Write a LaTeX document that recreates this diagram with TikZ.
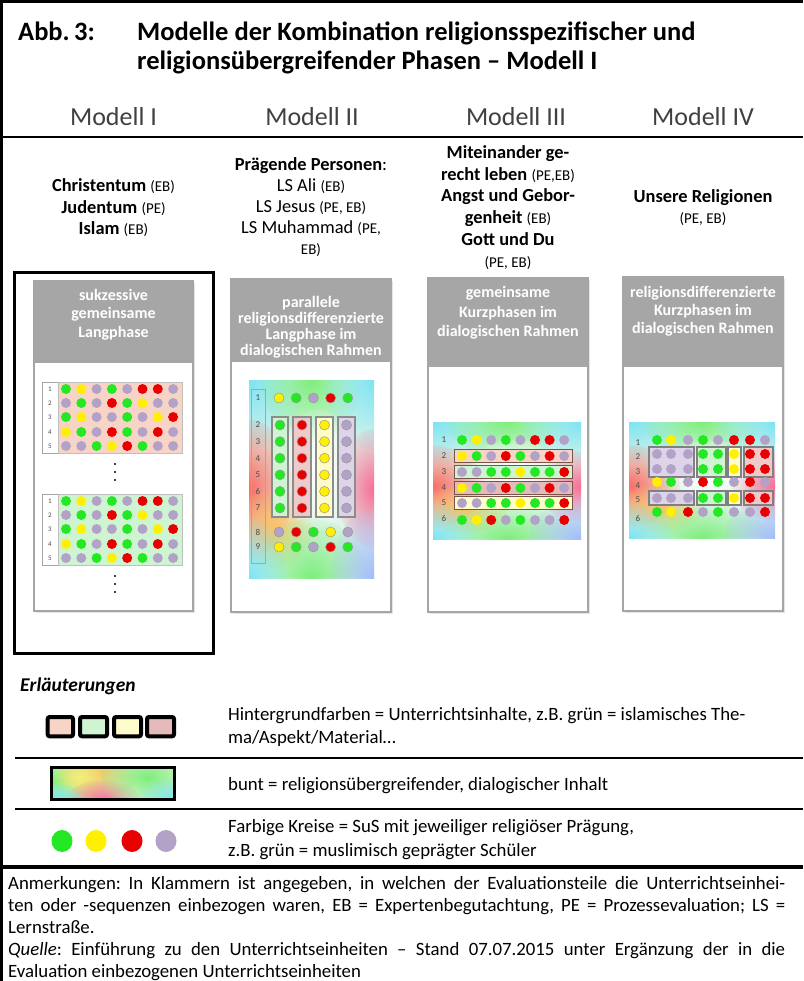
\documentclass[tikz,border=0pt]{standalone}
\usepackage{fontspec}
\setmainfont{Carlito}
\usetikzlibrary{fadings}
\setlength{\parindent}{0pt}
\frenchspacing
\begin{tikzfadingfrompicture}[name=blobfade]
  \shade[inner color=transparent!0, outer color=transparent!100] (0,0) circle (1cm);
\end{tikzfadingfrompicture}
\definecolor{cG}{RGB}{36,232,36}
\definecolor{cY}{RGB}{255,240,0}
\definecolor{cR}{RGB}{232,0,0}
\definecolor{cP}{RGB}{178,162,200}
\definecolor{hdr}{RGB}{166,166,166}
\definecolor{pbord}{RGB}{165,165,165}
\definecolor{bgS}{RGB}{248,212,198}
\definecolor{bgG}{RGB}{206,244,210}
\definecolor{bgY}{RGB}{255,252,204}
\definecolor{bgD}{RGB}{228,186,186}
\definecolor{bgL}{RGB}{222,212,234}
\definecolor{bgK}{RGB}{240,202,202}
\definecolor{boxbr}{RGB}{120,84,74}
\definecolor{buntbase}{RGB}{224,245,234}
\definecolor{bcy}{RGB}{125,228,242}
\definecolor{bgr}{RGB}{125,238,125}
\definecolor{bre}{RGB}{250,110,100}
\definecolor{bor}{RGB}{250,195,100}
\definecolor{bpk}{RGB}{248,110,150}
\definecolor{bbl}{RGB}{160,188,250}
\definecolor{bye}{RGB}{245,240,120}
\definecolor{lgbase}{RGB}{236,246,220}
\newcommand\sm[1]{{\fontsize{15}{17}\selectfont #1}}
\newcommand\dotrow[5][]{\foreach \c [count=\i from 0] in {#5} {\fill[fill=c\c,#1] ({#2+\i*#3},#4) circle[radius=5];}}
\newcommand\blob[5]{\fill[#5, path fading=blobfade] (#1,#2) ellipse[x radius=#3, y radius=#4];}
\newcommand\buntpanel[4]{%
  \begin{scope}
    \clip (#1,#2) rectangle (#3,#4);
    \fill[buntbase] (#1,#2) rectangle (#3,#4);
    \begin{scope}[shift={(#1,#2)}, xscale={#3-#1}, yscale={#4-#2}]
      \blob{0}{0}{0.45}{0.35}{bcy}
      \blob{0.5}{0}{0.4}{0.3}{bgr}
      \blob{1}{0}{0.4}{0.35}{bcy}
      \blob{0}{0.55}{0.35}{0.35}{bre}
      \blob{0.2}{0.75}{0.3}{0.2}{bor}
      \blob{1}{0.55}{0.3}{0.3}{bpk}
      \blob{0.55}{0.45}{0.3}{0.3}{white}
      \blob{0.5}{1}{0.45}{0.3}{bgr}
      \blob{0}{1}{0.3}{0.3}{bcy}
      \blob{1}{1}{0.35}{0.35}{bbl}
    \end{scope}
  \end{scope}}
\newcommand\panel[5]{%
  \fill[black!10] (#1+2,#2+2) rectangle (#3+2,#4+2);
  \fill[white] (#1,#2) rectangle (#3,#4);
  \fill[hdr] (#1,#2) rectangle (#3,#5);
  \draw[pbord, line width=1.5] (#1,#2) rectangle (#3,#4);}
\newcommand\gridI[3]{%
  \fill[white] (42,#1) rectangle (58,#1+71);
  \draw[black!35, line width=0.6] (42,#1) rectangle (58,#1+71);
  \fill[#2] (58,#1) rectangle (182,#1+71);
  \draw[black!25, line width=0.6] (58,#1) rectangle (182,#1+71);
  \foreach \n/\dy in {1/7,2/21,3/35,4/50,5/64} {\node[num1] (#3\n) at (50,#1+\dy) {\n};}
  \dotrow{66}{15.3}{#1+7}{G,Y,P,G,P,R,R,P}
  \dotrow{66}{15.3}{#1+21}{P,G,P,R,G,Y,P,P}
  \dotrow{66}{15.3}{#1+35}{G,Y,P,P,G,P,Y,R}
  \dotrow{66}{15.3}{#1+50}{Y,G,P,R,G,P,R,P}
  \dotrow{66}{15.3}{#1+64}{P,P,G,Y,R,G,P,P}
  \foreach \dy in {82,90,98} {\fill (115,#1+\dy) circle[radius=1.1];}}
\newcommand\rowIV[9]{%
  \fill[fill=c#2] (657,#1) circle[radius=5];
  \fill[fill=c#3] (671,#1) circle[radius=5];
  \fill[fill=c#4] (688,#1) circle[radius=5];
  \fill[fill=c#5] (703,#1) circle[radius=5];
  \fill[fill=c#6] (718,#1) circle[radius=5];
  \fill[fill=c#7] (734,#1) circle[radius=5];
  \fill[fill=c#8] (750,#1) circle[radius=5];
  \fill[fill=c#9] (765,#1) circle[radius=5];}
\tikzset{
  lbl/.style={anchor=base, inner sep=0, font=\fontsize{18.4}{22}\selectfont},
  hdrtxt/.style={anchor=base, inner sep=0, text=white, font=\fontsize{16}{18}\selectfont\bfseries},
  modhead/.style={anchor=base, inner sep=0, text=black!75, font=\fontsize{26}{31}\selectfont},
  num1/.style={inner sep=0, text=black!70, font=\fontsize{7}{8}\selectfont},
  num2/.style={inner sep=0, text=black!70, font=\fontsize{9}{10}\selectfont},
  legtxt/.style={anchor=base west, inner sep=0, font=\fontsize{18.8}{23}\selectfont},
  titl/.style={anchor=base west, inner sep=0, font=\fontsize{26.5}{30}\selectfont\bfseries},
  colbox/.style={draw=black!45, line width=1.2},
  rowbox/.style={draw=boxbr, line width=1},
  grpbox/.style={draw=black!50, line width=1.2},
  odot/.style={draw=black!40, line width=0.5}
}
\begin{document}
\begin{tikzpicture}[x=1pt,y=-1pt]
\useasboundingbox (0,0) rectangle (803,981);
\fill[white] (0,0) rectangle (803,981);
% frame
\draw[line width=3] (0,2) -- (803,2);
\draw[line width=2.7] (1.3,0) -- (1.3,981);
% title
\node[titl] (abb) at (18,41) {Abb.\,3:};
\node[titl] (tit1) at (137,41) {Modelle der Kombination religionsspezifischer und};
\node[titl] (tit2) at (137,70) {religionsübergreifender Phasen – Modell I};
% model headings
\node[modhead] (h1) at (113.5,126) {Modell I};
\node[modhead] (h2) at (312,126) {Modell II};
\node[modhead] (h3) at (516,126) {Modell III};
\node[modhead] (h4) at (703,126) {Modell IV};
\draw[line width=2] (2,137) -- (803,137);
% subtitles
\node[lbl] (s1a) at (113.5,192) {\textbf{Christentum} \sm{(EB)}};
\node[lbl] (s1b) at (113.5,214) {\textbf{Judentum} \sm{(PE)}};
\node[lbl] (s1c) at (113.5,235) {\textbf{Islam} \sm{(EB)}};
\node[lbl] (s2a) at (311,171) {\textbf{Prägende Personen}:};
\node[lbl] (s2b) at (311,192) {LS Ali \sm{(EB)}};
\node[lbl] (s2c) at (311,213) {LS Jesus \sm{(PE, EB)}};
\node[lbl] (s2d) at (311,234) {LS Muhammad \sm{(PE,}};
\node[lbl] (s2e) at (311,255) {\sm{EB)}};
\node[lbl] (s3a) at (508,159) {\textbf{Miteinander ge-}};
\node[lbl] (s3b) at (508,181) {\textbf{recht leben} \sm{(PE,EB)}};
\node[lbl] (s3c) at (508,202) {\textbf{Angst und Gebor-}};
\node[lbl] (s3d) at (508,224) {\textbf{genheit} \sm{(EB)}};
\node[lbl] (s3e) at (508,246) {\textbf{Gott und Du}};
\node[lbl] (s3f) at (508,268) {\sm{(PE, EB)}};
\node[lbl] (s4a) at (703,203) {\textbf{Unsere Religionen}};
\node[lbl] (s4b) at (703,224) {\sm{(PE, EB)}};
% ===== Model I =====
\draw[line width=3] (14,273) rectangle (213,653);
\panel{34}{281}{193}{611}{363}
\node[hdrtxt] (p1a) at (113.5,300) {sukzessive};
\node[hdrtxt] (p1b) at (113.5,318) {gemeinsame};
\node[hdrtxt] (p1c) at (113.5,337) {Langphase};
\gridI{382}{bgS}{ga}
\gridI{494}{bgG}{gb}
% ===== Model II =====
\panel{231}{279}{391}{612}{362}
\node[hdrtxt] (p2a) at (311,307) {parallele};
\node[hdrtxt] (p2b) at (311,323) {religionsdifferenzierte};
\node[hdrtxt] (p2c) at (311,339) {Langphase im};
\node[hdrtxt] (p2d) at (311,355) {dialogischen Rahmen};
\buntpanel{249}{380}{374}{578}
\draw[black!35, line width=0.8] (251,389) rectangle (265,563);
\foreach \n/\y in {1/398,2/425,3/441.6,4/458.2,5/474.8,6/491.4,7/508,8/532,9/547} {\node[num2] (n2\n) at (258,\y) {\n};}
\dotrow[odot]{279}{17.2}{398}{Y,G,P,R,G}
\fill[bgG, colbox] (272,417) rectangle (288,517);
\fill[bgK, colbox] (293,417) rectangle (311,517);
\fill[bgY, colbox] (316,417) rectangle (333,517);
\fill[bgL, colbox] (338,417) rectangle (355,517);
\foreach \k in {0,...,5} {
  \fill[fill=cG, odot] (280,425+16.6*\k) circle[radius=5];
  \fill[fill=cR, odot] (302,425+16.6*\k) circle[radius=5];
  \fill[fill=cY, odot] (324.5,425+16.6*\k) circle[radius=5];
  \fill[fill=cP, odot] (346.5,425+16.6*\k) circle[radius=5];
}
\dotrow[odot]{279}{17.2}{532}{P,R,G,Y,P}
\dotrow[odot]{279}{17.2}{547}{Y,G,P,R,G}
% ===== Model III =====
\panel{428}{278}{588}{612}{367}
\node[hdrtxt] (p3a) at (508,298) {gemeinsame};
\node[hdrtxt] (p3b) at (508,317) {Kurzphasen im};
\node[hdrtxt] (p3c) at (508,336) {dialogischen Rahmen};
\buntpanel{433}{422}{581}{539}
\fill[bgS, rowbox] (454,449.5) rectangle (572,462.5);
\fill[bgG, rowbox] (454,465.5) rectangle (572,478.5);
\fill[bgD, rowbox] (454,481.5) rectangle (572,494.5);
\fill[bgY, rowbox] (454,496.5) rectangle (572,509.5);
\foreach \n/\y in {1/440,2/456,3/472,4/488,5/503,6/518} {\node[num2] (n3\n) at (444,\y) {\n};}
\dotrow{462}{14.6}{440}{G,Y,P,G,P,R,R,P}
\dotrow{462}{14.6}{456}{Y,G,P,R,G,P,R,P}
\dotrow{462}{14.6}{472}{P,P,G,G,Y,G,G,R}
\dotrow{462}{14.6}{488}{Y,G,P,R,G,P,R,P}
\dotrow{462}{14.6}{503}{P,P,G,G,Y,G,G,R}
\dotrow{462}{14.6}{520}{G,Y,R,P,G,P,P,R}
% ===== Model IV =====
\panel{623}{277}{783}{611}{367}
\node[hdrtxt] (p4a) at (703,297) {religionsdifferenzierte};
\node[hdrtxt] (p4b) at (703,315) {Kurzphasen im};
\node[hdrtxt] (p4c) at (703,333) {dialogischen Rahmen};
\buntpanel{629}{422}{775}{538}
\foreach \ya/\yb in {447/477,491/505} {
  \fill[bgL, grpbox] (649,\ya) rectangle (694,\yb);
  \fill[bgG, grpbox] (697,\ya) rectangle (726,\yb);
  \fill[bgY, grpbox] (728,\ya) rectangle (741,\yb);
  \fill[bgK, grpbox] (744,\ya) rectangle (773,\yb);
}
\foreach \n/\y in {1/443,2/457,3/472,4/486,5/500,6/518} {\node[num2] (n4\n) at (638,\y) {\n};}
\rowIV{440}{G}{Y}{P}{G}{P}{R}{R}{P}
\rowIV{454}{P}{P}{P}{G}{G}{Y}{R}{R}
\rowIV{469}{P}{P}{P}{G}{G}{Y}{R}{R}
\rowIV{482}{Y}{G}{P}{R}{G}{P}{R}{P}
\rowIV{498}{P}{P}{P}{G}{G}{Y}{R}{R}
\rowIV{512}{G}{Y}{R}{P}{G}{P}{P}{R}
% ===== Legend =====
\node[anchor=base west, inner sep=0, font=\fontsize{19.5}{22}\selectfont\bfseries\itshape] (erl) at (20,691) {Erläuterungen};
\draw[line width=4, rounded corners=2, fill=bgS] (47.7,717) rectangle (73,736.3);
\draw[line width=4, rounded corners=2, fill=bgG] (80,717) rectangle (107,736.3);
\draw[line width=4, rounded corners=2, fill=bgY] (114,717) rectangle (141,736.3);
\draw[line width=4, rounded corners=2, fill=bgD] (147,717) rectangle (174,736.3);
\node[legtxt] (l1a) at (228,720) {Hintergrundfarben = Unterrichtsinhalte, z.B. grün = islamisches The-};
\node[legtxt] (l1b) at (228,743) {ma/Aspekt/Material…};
\draw[line width=2] (15,758) -- (803,758);
\begin{scope}
  \clip (51.5,767.5) rectangle (174.5,799.5);
  \fill[lgbase] (51.5,767.5) rectangle (174.5,799.5);
  \begin{scope}[shift={(51.5,767.5)}, xscale=123, yscale=32]
    \blob{0.05}{0.4}{0.4}{0.9}{bgr}
    \blob{0.38}{0.15}{0.32}{0.8}{bor}
    \blob{0.22}{0.3}{0.2}{0.6}{bye}
    \blob{0.42}{1}{0.3}{0.6}{bpk}
    \blob{0.78}{0.3}{0.38}{0.9}{bgr}
    \blob{1}{0.95}{0.3}{0.6}{bcy}
    \blob{0.05}{1}{0.2}{0.5}{bcy}
  \end{scope}
\end{scope}
\draw[line width=3] (51.5,767.5) rectangle (174.5,799.5);
\node[legtxt] (l2) at (228,790) {bunt = religionsübergreifender, dialogischer Inhalt};
\draw[line width=2] (15,809) -- (803,809);
\fill[cG] (62,841) ellipse[x radius=10.5, y radius=11];
\fill[cY] (96,841) ellipse[x radius=10.5, y radius=11];
\fill[cR] (132,841) ellipse[x radius=10.5, y radius=11];
\fill[cP] (166,841) ellipse[x radius=10.5, y radius=11];
\node[legtxt] (l3a) at (228,832) {Farbige Kreise = SuS mit jeweiliger religiöser Prägung,};
\node[legtxt] (l3b) at (228,856) {z.B. grün = muslimisch geprägter Schüler};
\draw[line width=3.5] (2,867) -- (803,867);
% notes
\node[anchor=north west, inner sep=0, text width=777pt, align=justify, font=\fontsize{18.8}{22}\selectfont] (notes) at (8,876) {Anmerkungen: In Klammern ist angegeben, in welchen der Evaluationsteile die Unterrichtseinhei-\linebreak ten oder -sequenzen einbezogen waren, EB = Expertenbegutachtung, PE = Prozessevaluation; LS =\linebreak Lernstraße.\par \textit{Quelle}: Einführung zu den Unterrichtseinheiten – Stand 07.07.2015 unter Ergänzung der in die\linebreak Evaluation einbezogenen Unterrichtseinheiten};
\end{tikzpicture}
\end{document}
